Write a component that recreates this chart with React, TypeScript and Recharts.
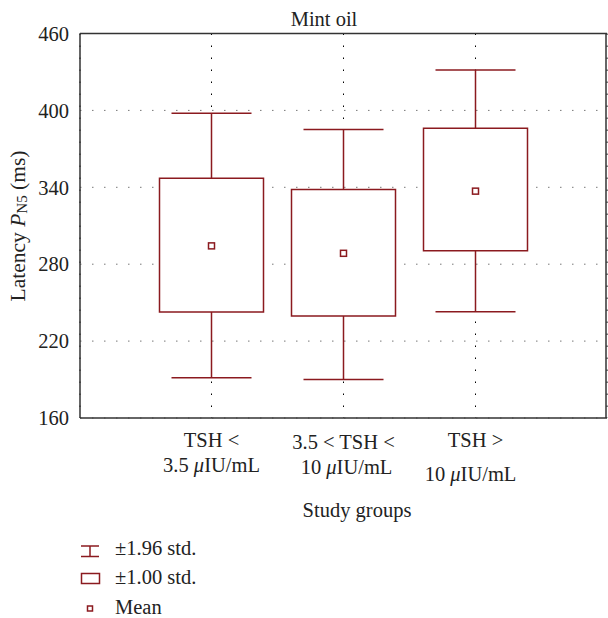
import React from 'react';
import { ComposedChart, Bar, Scatter, XAxis, YAxis, CartesianGrid } from 'recharts';

// values (ms)
const groups = ['g1', 'g2', 'g3'];
const groupLabels = [
    ['TSH <', '3.5 μIU/mL'],
    ['3.5 < TSH <', '10 μIU/mL'],
    ['TSH >', '10 μIU/mL'],
];
const means = [294.3, 288.5, 337.0];
const boxLow = [242.7, 239.5, 290.5];
const boxHigh = [347.1, 338.3, 386.1];
const whiskerLow = [191.4, 190.1, 242.9];
const whiskerHigh = [397.8, 385.1, 431.6];
const yTicks = [160, 220, 280, 340, 400, 460];
const yMinorTicks = [
    160, 172, 184, 196, 208, 220, 232, 244, 256, 268, 280, 292, 304,
    316, 328, 340, 352, 364, 376, 388, 400, 412, 424, 436, 448, 460,
];

const data = groups.map((g, i) => ({
    group: g,
    whisker: [whiskerLow[i], whiskerHigh[i]],
    box: [boxLow[i], boxHigh[i]],
    mean: means[i],
}));

const RED = '#8b1a1f';
const AXIS = '#333';
const FONT = '"Liberation Serif", "DejaVu Serif", serif';
const FS = 20.5;
const PAD = { left: 65.5, right: 65.5 };

// renders "μ" in italics
const withMu = (s: string) => {
    const parts = s.split('μ');
    if (parts.length === 1) return s;
    return (
        <>
            {parts[0]}
            <tspan fontStyle="italic">μ</tspan>
            {parts[1]}
        </>
    );
};

const lineY = [[29, 54], [31, 56], [29, 63]];
const lineDx = [[0, 0], [0, 3], [0, -5]];

const GroupTick = (props: any) => {
    const { x, y, payload } = props;
    const i = groups.indexOf(payload.value);
    const [l1, l2] = groupLabels[i];
    return (
        <text textAnchor="middle" fontFamily={FONT} fontSize={FS} fill="#222">
            <tspan x={x + lineDx[i][0]} y={y + lineY[i][0]}>{l1}</tspan>
            <tspan x={x + lineDx[i][1]} y={y + lineY[i][1]}>{withMu(l2)}</tspan>
        </text>
    );
};

const Whisker = (props: any) => {
    const { x, y, width, height } = props;
    const cx = x + width / 2;
    return (
        <g stroke={RED} strokeWidth={1.5}>
            <line x1={x} x2={x + width} y1={y} y2={y} />
            <line x1={x} x2={x + width} y1={y + height} y2={y + height} />
            <line x1={cx} x2={cx} y1={y} y2={y + height} />
        </g>
    );
};

const MeanMark = (props: any) => {
    const { cx, cy } = props;
    return <rect x={cx - 3} y={cy - 3} width={6} height={6} fill="#fff" stroke={RED} strokeWidth={1.5} />;
};

const YLabel = () => (
    <text
        x={20}
        y={226}
        transform="rotate(-90, 20, 226)"
        textAnchor="middle"
        dominantBaseline="middle"
        fontFamily={FONT}
        fontSize={21.5}
        fill="#222"
    >
        Latency <tspan fontStyle="italic">P</tspan>
        <tspan dy={4} fontSize={15}>N5</tspan>
        <tspan dy={-4}> (ms)</tspan>
    </text>
);

export default function App() {
    return (
        <div style={{ position: 'absolute', left: 0, top: 0, width: 608, height: 618, background: '#fff' }}>
            <ComposedChart
                width={608}
                height={618}
                data={data}
                margin={{ top: 33.5, right: 1, bottom: 130, left: 0 }}
                style={{ fontFamily: FONT }}
            >
                <CartesianGrid horizontal vertical={false} stroke="#777" strokeDasharray="1.5 10.5" />
                <CartesianGrid horizontal={false} vertical stroke="#000" strokeDasharray="1.5 10.5" />

                <XAxis
                    dataKey="group"
                    height={70}
                    padding={PAD}
                    tick={<GroupTick />}
                    tickLine={false}
                    tickSize={0}
                    tickMargin={0}
                    axisLine={{ stroke: AXIS, strokeWidth: 1.5 }}
                    interval={0}
                />
                <XAxis
                    xAxisId="top"
                    orientation="top"
                    dataKey="group"
                    mirror
                    height={1}
                    padding={PAD}
                    tick={false}
                    tickSize={4}
                    tickLine={{ stroke: '#000' }}
                    axisLine={{ stroke: AXIS, strokeWidth: 1.5 }}
                    interval={0}
                />
                <XAxis
                    xAxisId="bm"
                    orientation="bottom"
                    dataKey="group"
                    mirror
                    height={1}
                    padding={PAD}
                    tick={false}
                    tickSize={3}
                    tickLine={{ stroke: '#000' }}
                    axisLine={false}
                    interval={0}
                />

                <YAxis
                    domain={[160, 460]}
                    ticks={yTicks}
                    width={80}
                    tickLine={false}
                    tickSize={0}
                    tickMargin={11}
                    tick={{ fill: '#222', fontSize: FS, fontFamily: FONT }}
                    axisLine={{ stroke: AXIS, strokeWidth: 1.5 }}
                    allowDataOverflow
                    label={<YLabel />}
                />
                <YAxis
                    yAxisId="lm"
                    domain={[160, 460]}
                    ticks={yMinorTicks}
                    mirror
                    width={1}
                    tick={false}
                    tickSize={3}
                    tickLine={{ stroke: '#000' }}
                    axisLine={false}
                    interval={0}
                />
                <YAxis
                    yAxisId="rm"
                    orientation="right"
                    domain={[160, 460]}
                    ticks={yMinorTicks}
                    mirror
                    width={1}
                    tick={false}
                    tickSize={3}
                    tickLine={{ stroke: '#000' }}
                    axisLine={{ stroke: AXIS, strokeWidth: 1.5 }}
                    interval={0}
                />
                <YAxis
                    yAxisId="rM"
                    orientation="right"
                    domain={[160, 460]}
                    ticks={yTicks}
                    mirror
                    width={1}
                    tick={false}
                    tickSize={6}
                    tickLine={{ stroke: '#000', strokeWidth: 1.5 }}
                    axisLine={false}
                />

                <Bar
                    xAxisId="top"
                    dataKey="whisker"
                    barSize={80}
                    shape={<Whisker />}
                    isAnimationActive={false}
                />
                <Bar
                    dataKey="box"
                    barSize={104}
                    fill="#fff"
                    stroke={RED}
                    strokeWidth={1.5}
                    isAnimationActive={false}
                />
                <Scatter dataKey="mean" shape={<MeanMark />} isAnimationActive={false} />
            </ComposedChart>

            <svg
                width={608}
                height={618}
                style={{ position: 'absolute', left: 0, top: 0, pointerEvents: 'none' }}
                fontFamily={FONT}
                fontSize={FS}
                fill="#222"
            >
                <text x={324} y={26} textAnchor="middle">Mint oil</text>
                <text x={357} y={517} textAnchor="middle">Study groups</text>

                <g stroke={RED} strokeWidth={1.5} fill="none">
                    <line x1={81} x2={99} y1={546} y2={546} />
                    <line x1={81} x2={99} y1={556.5} y2={556.5} />
                    <line x1={90} x2={90} y1={546} y2={556.5} />
                    <rect x={81.5} y={573.5} width={18} height={10} fill="#fff" />
                    <rect x={87.5} y={606} width={5} height={5} fill="#fff" />
                </g>
                <text x={115} y={555}>±1.96 std.</text>
                <text x={115} y={584}>±1.00 std.</text>
                <text x={115} y={614}>Mean</text>
            </svg>
        </div>
    );
}
